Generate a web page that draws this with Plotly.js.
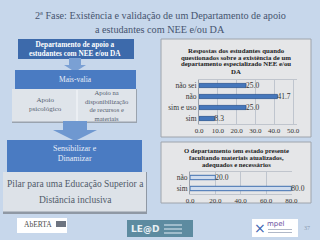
<!DOCTYPE html>
<html><head><meta charset="utf-8">
<script src="https://cdn.plot.ly/plotly-3.0.1.min.js"></script>
<style>html,body{margin:0;padding:0;background:#c7d7eb;}#chart{width:320px;height:240px;}</style>
</head><body><div id="chart"></div>
<script>
// Data
const cat1 = ['não sei', 'não', 'sim e uso', 'sim'];
const val1 = [25.0, 41.7, 25.0, 8.3];
const ticks1 = [0, 10, 20, 30, 40, 50];
const cat2 = ['não', 'sim'];
const val2 = [20.0, 80.0];
const ticks2 = [0, 20, 40, 60, 80];
const title1 = ['Respostas dos estudantes quando', 'questionados sobre a existência de um', 'departamento especializado NEE e/ou', 'DA'];
const title2 = ['O departamento tem estado presente', 'facultando materiais atualizados,', 'adequados e necessários'];
const slideTitle = ['2ª Fase: Existência e validação de um Departamento de apoio', 'a estudantes com NEE e/ou DA'];

const W = 320, H = 240;
const X = p => p / W, Y = p => 1 - p / H;
const SERIF = 'Liberation Serif, Times New Roman, serif';

const shapes = [];
const ann = [];
function rect(x0, y0, x1, y1, fill, line, lw) {
  shapes.push({type: 'rect', xref: 'paper', yref: 'paper', x0: X(x0), x1: X(x1), y0: Y(y1), y1: Y(y0),
    fillcolor: fill, line: {color: line || fill, width: lw || 0}, layer: 'below'});
}
function downArrow(cx, y0, y1, halfW, shaftW, headH, fill) {
  const pts = [[cx - shaftW, y0], [cx + shaftW, y0], [cx + shaftW, y1 - headH], [cx + halfW, y1 - headH],
    [cx, y1], [cx - halfW, y1 - headH], [cx - shaftW, y1 - headH]];
  const path = 'M' + pts.map(p => X(p[0]) + ',' + Y(p[1])).join(' L') + ' Z';
  shapes.push({type: 'path', xref: 'paper', yref: 'paper', path: path, fillcolor: fill, line: {width: 0}, layer: 'below'});
}
function text(t, x, y, size, color, opts) {
  ann.push(Object.assign({text: t, x: X(x), y: Y(y), xref: 'paper', yref: 'paper', showarrow: false,
    font: {family: SERIF, size: size, color: color}, xanchor: 'center', yanchor: 'middle'}, opts || {}));
}

// Left diagram
rect(18, 39, 134, 59, '#3d6aab');
downArrow(75, 58, 72, 11, 6, 7, '#7aa0d4');
rect(15, 70, 136, 89, '#4a7bc2');
rect(12, 89, 137, 123, '#9aa3ae');
rect(12, 89, 136, 121.5, '#dfe4ea');
shapes.push({type: 'line', xref: 'paper', yref: 'paper', x0: X(77), x1: X(77), y0: Y(90), y1: Y(121), line: {color: '#f4f6f9', width: 1.2}, layer: 'below'});
downArrow(75, 121, 141, 22, 12, 11, '#6f98d0');
rect(7, 140, 142, 172, '#4a7bc2');
rect(3, 172, 147, 214, '#8f98a4');
rect(3, 172, 146, 211.5, '#dde2e8');

text('<b>Departamento de apoio a<br>estudantes com NEE e/ou DA</b>', 75, 48.5, 7.3, '#ffffff');
text('Mais-valia', 75, 80, 7.5, '#e8eef8');
text('Apoio<br>psicológico', 45, 104, 7, '#556070');
text('Apoio na<br>disponibilização<br>de recursos e<br>materiais', 107, 105, 6.6, '#556070');
text('Sensibilizar e<br>Dinamizar', 75, 153.5, 8, '#e8eef8');
text('Pilar para uma Educação Superior a', 75, 184, 9.5, '#505a68');
text('Distância inclusiva', 75, 200, 9.5, '#505a68');

// Slide title
text(slideTitle[0], 160, 15, 10.2, '#46546f');
text(slideTitle[1], 160, 29, 10.2, '#46546f');

// Chart panels
rect(161, 39, 311, 137, '#e5e6e8', '#9ea4ac', 1);
rect(161, 142, 311, 203, '#e5e6e8', '#9ea4ac', 1);
title1.forEach((t, i) => text('<b>' + t + '</b>', 236, 50 + i * 7, 6.8, '#222222'));
title2.forEach((t, i) => text('<b>' + t + '</b>', 236, 150 + i * 7, 6.7, '#222222'));

// Logos
rect(17, 218, 67, 233, '#ffffff');
text('AbERTA', 38, 224.5, 7.5, '#4a4a4a');
rect(56, 221, 66, 227, '#6d7480');
rect(127, 220, 193, 237, '#5d8ba0');
text('<b>LE@D</b>', 145, 228.5, 9, '#e8f0f4', {font: {family: 'DejaVu Sans', size: 9, color: '#e8f0f4'}});
rect(164, 224, 182, 226, '#9fbccb');
rect(164, 228, 182, 230, '#9fbccb');
rect(164, 232, 182, 234, '#9fbccb');
rect(252, 219, 298, 237, '#ffffff');
text('mpel', 276, 224, 7, '#6a4fa0', {font: {family: 'DejaVu Sans', size: 7, color: '#6a4fa0'}});
text('×', 260, 228, 14, '#c8353a', {font: {family: 'DejaVu Sans', size: 14, color: '#3a62b0'}});
rect(268, 229, 292, 230, '#b0b8c8');
rect(268, 232, 292, 233, '#b0b8c8');
text('37', 307, 228, 6, '#8a9ab0');

const bar1 = {type: 'bar', orientation: 'h', y: cat1, x: val1, xaxis: 'x', yaxis: 'y',
  width: 0.38, marker: {color: '#4677bb', line: {color: '#2a5592', width: 0.8}},
  texttemplate: '%{x:.1f}', textposition: 'outside', cliponaxis: false, constraintext: 'none',
  textfont: {family: SERIF, size: 7.5, color: '#333333'}, hoverinfo: 'skip'};
const bar2 = {type: 'bar', orientation: 'h', y: cat2, x: val2, xaxis: 'x2', yaxis: 'y2',
  width: 0.4, marker: {color: '#cfdcee', line: {color: '#3f6fb0', width: 1}},
  texttemplate: '%{x:.1f}', textposition: 'outside', cliponaxis: false, constraintext: 'none',
  textfont: {family: SERIF, size: 7.5, color: '#333333'}, hoverinfo: 'skip'};

const tickFont = {family: SERIF, size: 7, color: '#333333'};
const layout = {
  width: W, height: H, margin: {l: 0, r: 0, t: 0, b: 0},
  paper_bgcolor: '#c7d7eb', plot_bgcolor: '#eef1f6', showlegend: false,
  shapes: shapes, annotations: ann,
  xaxis: {domain: [X(199), X(297)], range: [0, 52.1], tickvals: ticks1, tickformat: '.1f',
    showgrid: true, gridcolor: '#bfc5ce', gridwidth: 1, zeroline: false, showline: true, mirror: true, linecolor: '#c0c5cd',
    tickfont: tickFont, ticks: '', anchor: 'y', fixedrange: true},
  yaxis: {domain: [Y(124), Y(80)], autorange: 'reversed', tickfont: Object.assign({}, tickFont, {size: 7.5}),
    showline: true, linecolor: '#9aa0aa', ticks: '', showgrid: false, anchor: 'x', fixedrange: true},
  xaxis2: {domain: [X(190), X(292)], range: [0, 80.5], tickvals: ticks2, tickformat: '.1f',
    showgrid: true, gridcolor: '#bfc5ce', zeroline: false, showline: true, mirror: true, linecolor: '#c0c5cd',
    tickfont: tickFont, ticks: '', anchor: 'y2', fixedrange: true},
  yaxis2: {domain: [Y(194), Y(172)], autorange: 'reversed', tickfont: Object.assign({}, tickFont, {size: 7.5}),
    showline: true, linecolor: '#9aa0aa', ticks: '', showgrid: false, anchor: 'x2', fixedrange: true}
};

Plotly.newPlot('chart', [bar1, bar2], layout, {staticPlot: true, displayModeBar: false});
</script></body></html>
